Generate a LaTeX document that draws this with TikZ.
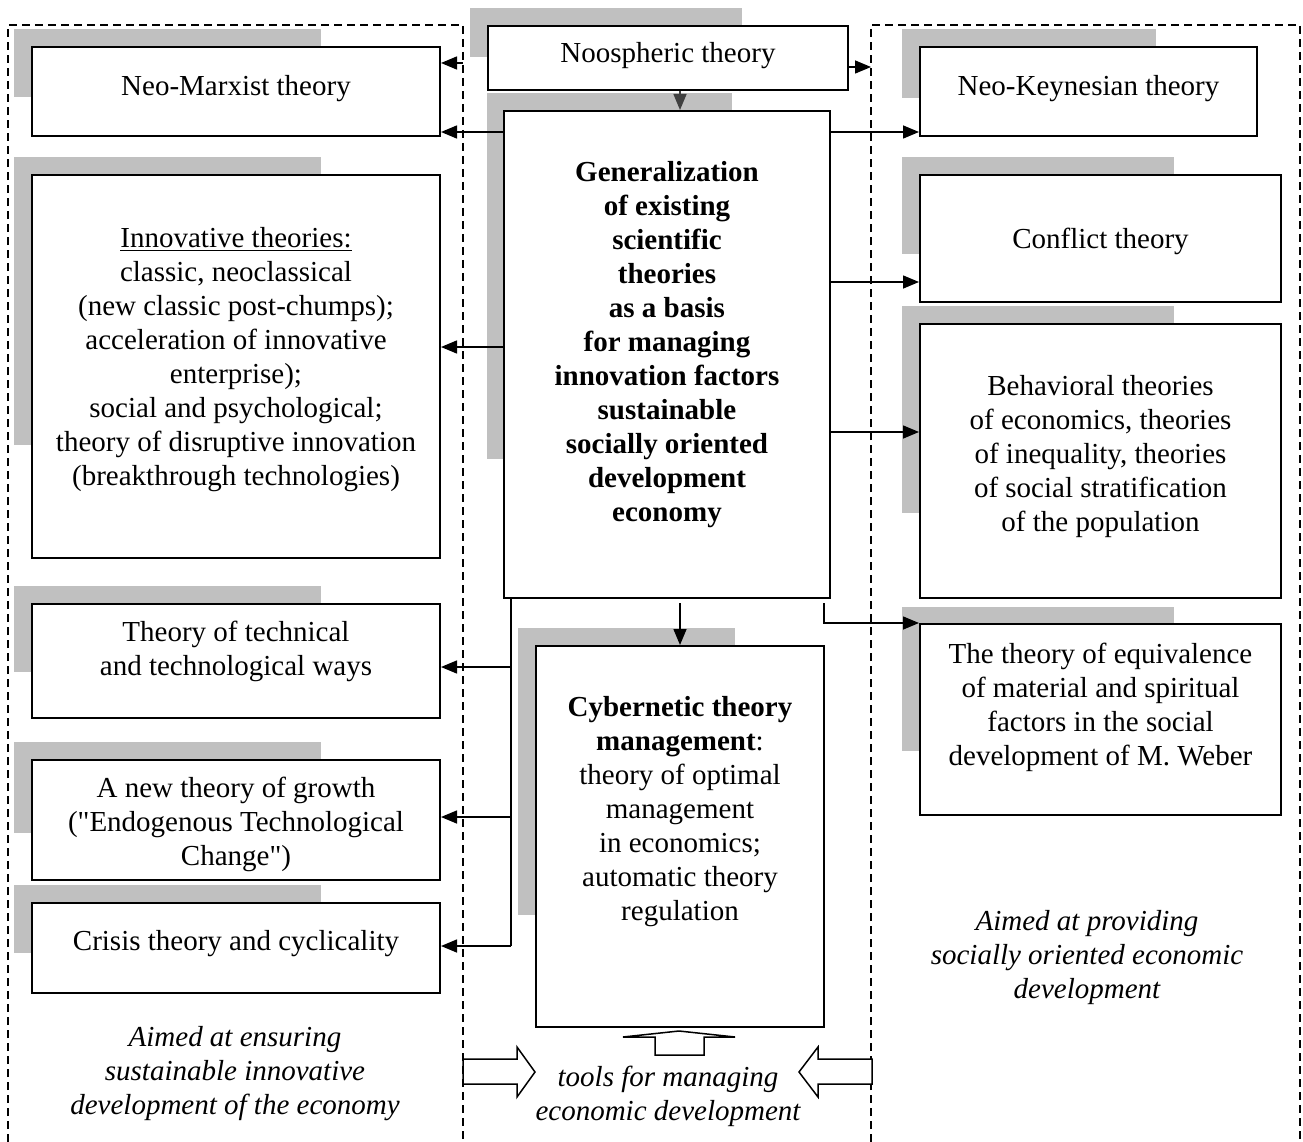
\documentclass[tikz,border=0pt]{standalone}
\usepackage{fontspec}
\setmainfont{Liberation Serif}[Ligatures=TeXOff]
\usetikzlibrary{arrows.meta}
\definecolor{shadegray}{RGB}{192,192,192}
\definecolor{darkarrow}{RGB}{64,64,64}
\begin{document}
\begin{tikzpicture}[x=1pt,y=-1pt,
  box/.style={draw=black, line width=2pt, fill=white, inner sep=0pt, anchor=north west},
  shade/.style={fill=shadegray, draw=none},
  txt/.style={align=center, inner sep=0pt, font=\fontsize{29}{34}\selectfont},
  itxt/.style={align=center, inner sep=0pt, font=\fontsize{29}{34}\selectfont\itshape},
  btxt/.style={align=center, inner sep=0pt, font=\fontsize{29}{34}\selectfont\bfseries},
  conn/.style={line width=1.5pt, -{Triangle[length=16pt,width=13pt]}},
  plainline/.style={line width=1.5pt},
  zone/.style={line width=1.4pt, dash pattern=on 8pt off 5pt},
  hollow/.style={draw=black, line width=1.5pt, fill=white, line join=miter}
]
\useasboundingbox (0,0) rectangle (1303,1142);

% dashed zones
\draw[zone] (8,1142) -- (8,25) -- (463,25) -- (463,1142);
\draw[zone] (871,1142) -- (871,25) -- (1300,25) -- (1300,1142);

% shadows
\fill[shade] (14,29) rectangle (321,97);
\fill[shade] (14,157) rectangle (321,445);
\fill[shade] (14,586) rectangle (321,672);
\fill[shade] (14,742) rectangle (321,833);
\fill[shade] (14,885) rectangle (321,953);
\fill[shade] (470,8) rectangle (742,57);
\fill[shade] (487,93) rectangle (732,459);
\fill[shade] (518,628) rectangle (735,915);
\fill[shade] (902,29) rectangle (1156,98);
\fill[shade] (902,157) rectangle (1174,254);
\fill[shade] (902,306) rectangle (1174,513);
\fill[shade] (902,607) rectangle (1174,751);

% boxes
\node[box, minimum width=408pt, minimum height=89pt] (nmarx) at (31,46) {};
\node[box, minimum width=408pt, minimum height=383pt] (innov) at (31,174) {};
\node[box, minimum width=408pt, minimum height=114pt] (tech) at (31,603) {};
\node[box, minimum width=408pt, minimum height=120pt] (growth) at (31,759) {};
\node[box, minimum width=408pt, minimum height=90pt] (crisis) at (31,902) {};
\node[box, minimum width=360pt, minimum height=64pt] (noos) at (487,25) {};
\node[box, minimum width=326pt, minimum height=487pt] (gen) at (503,110) {};
\node[box, minimum width=288pt, minimum height=381pt] (cyber) at (535,645) {};
\node[box, minimum width=337pt, minimum height=89pt] (nkeyn) at (919,46) {};
\node[box, minimum width=361pt, minimum height=127pt] (confl) at (919,174) {};
\node[box, minimum width=361pt, minimum height=274pt] (behav) at (919,323) {};
\node[box, minimum width=361pt, minimum height=191pt] (weber) at (919,623) {};

% texts
\node[txt] (nmarxT) at (nmarx.center |- 0,89) {Neo-Marxist theory};
\node[txt] (innovT) at (innov.center |- 0,360) {\underline{Innovative theories:}\\classic, neoclassical\\(new classic post-chumps);\\acceleration of innovative\\enterprise);\\social and psychological;\\theory of disruptive innovation\\(breakthrough technologies)};
\node[txt] (techT) at (tech.center |- 0,651) {Theory of technical\\and technological ways};
\node[txt] (growthT) at (growth.center |- 0,824) {A new theory of growth\\("Endogenous Technological\\Change")};
\node[txt] (crisisT) at (crisis.center |- 0,944) {Crisis theory and cyclicality};
\node[txt] (noosT) at (noos.center |- 0,56) {Noospheric theory};
\node[btxt] (genT) at (gen.center |- 0,345) {Generalization\\of existing\\scientific\\theories\\as a basis\\for managing\\innovation factors\\sustainable\\socially oriented\\development\\economy};
\node[txt] (cyberT) at (cyber.center |- 0,812) {\textbf{Cybernetic theory}\\\textbf{management}:\\theory of optimal\\management\\in economics;\\automatic theory\\regulation};
\node[txt] (nkeynT) at (nkeyn.center |- 0,89) {Neo-Keynesian theory};
\node[txt] (conflT) at (confl.center |- 0,241) {Conflict theory};
\node[txt] (behavT) at (behav.center |- 0,457) {Behavioral theories\\of economics, theories\\of inequality, theories\\of social stratification\\of the population};
\node[txt] (weberT) at (weber.center |- 0,707) {The theory of equivalence\\of material and spiritual\\factors in the social\\development of M. Weber};
\node[itxt] (leftT) at (235,1074) {Aimed at ensuring\\sustainable innovative\\development of the economy};
\node[itxt] (rightT) at (1087,958) {Aimed at providing\\socially oriented economic\\development};
\node[itxt] (toolsT) at (668,1096) {tools for managing\\economic development};

% connectors
\coordinate (nooL) at (463,63);
\coordinate (nooR) at (871,67);
\draw[conn] (nooL) -- (nmarx.east |- nooL);
\draw[conn] (noos.east |- nooR) -- (nooR);
\draw[conn, draw=darkarrow, fill=darkarrow] (noos.south -| 680,0) -- (gen.north -| 680,0);

\draw[conn] (gen.west |- 0,132) -- (nmarx.east |- 0,132);
\draw[conn] (gen.west |- 0,347) -- (innov.east |- 0,347);
\draw[conn] (gen.east |- 0,132) -- (nkeyn.west |- 0,132);
\draw[conn] (gen.east |- 0,282) -- (confl.west |- 0,282);
\draw[conn] (gen.east |- 0,432) -- (behav.west |- 0,432);
\coordinate (wst) at (824,603);
\draw[conn] (wst) |- (weber.north west);
\coordinate (gdn) at (680,603);
\draw[conn] (gdn) -- (cyber.north -| gdn);

\coordinate (trunkEnd) at (511,946);
\draw[plainline] (gen.south -| trunkEnd) -- (trunkEnd);
\coordinate (t1) at (511,667);
\coordinate (t2) at (511,817);
\draw[conn] (t1) -- (tech.east |- t1);
\draw[conn] (t2) -- (growth.east |- t2);
\draw[conn] (trunkEnd) -- (crisis.east |- trunkEnd);

% hollow arrows
\draw[hollow] (655,1055) -- (655,1037) -- (623,1037) -- (679,1031) -- (735,1037) -- (704,1037) -- (704,1055) -- cycle;
\draw[hollow] (463,1059) -- (517,1059) -- (517,1047) -- (535,1072) -- (517,1097) -- (517,1084) -- (463,1084) -- cycle;
\draw[hollow] (872,1059) -- (818,1059) -- (818,1047) -- (799,1072) -- (818,1097) -- (818,1084) -- (872,1084) -- cycle;
\end{tikzpicture}
\end{document}
